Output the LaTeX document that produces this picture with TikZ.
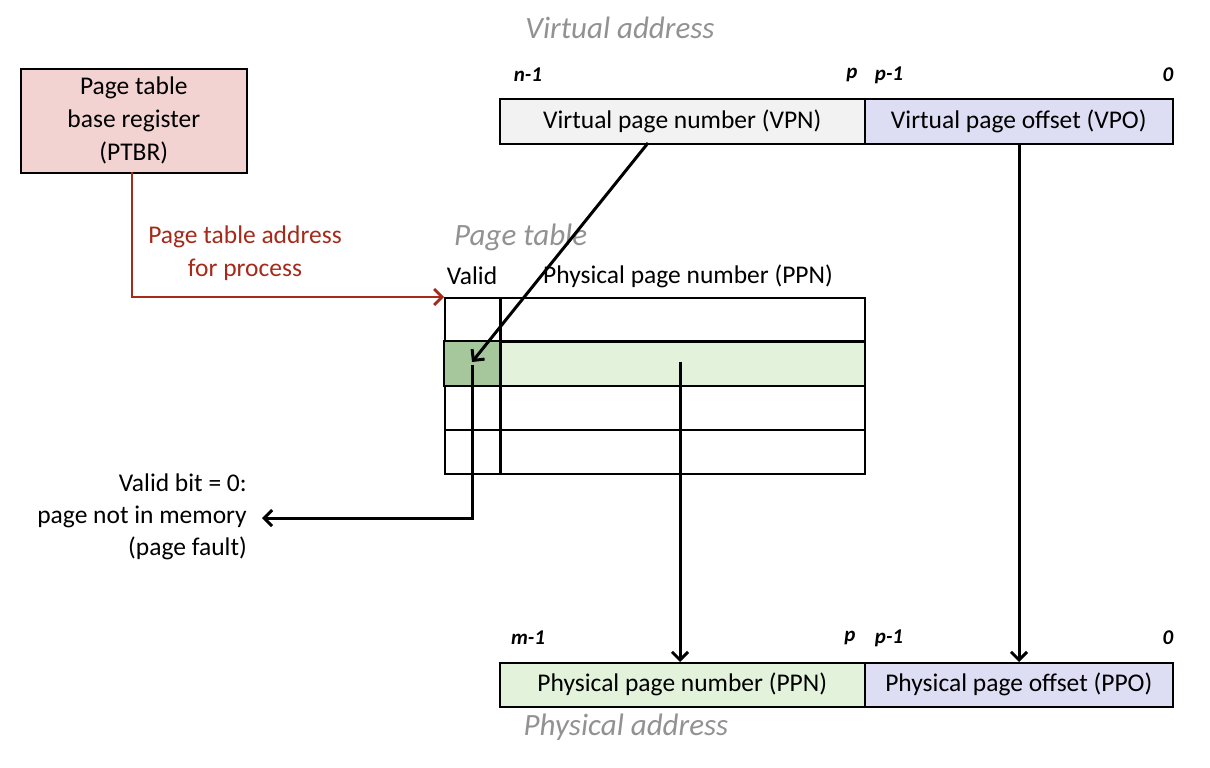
\documentclass[tikz,border=0pt]{standalone}
\usepackage{fontspec}
\setmainfont{Carlito}
\usetikzlibrary{arrows.meta,calc}
\definecolor{ptbrfill}{HTML}{F2D3D2}
\definecolor{vpnfill}{HTML}{F2F2F2}
\definecolor{offfill}{HTML}{DDDDF3}
\definecolor{ppnfill}{HTML}{E2F2DB}
\definecolor{validfill}{HTML}{A6C79C}
\definecolor{redline}{HTML}{A52A1A}
\definecolor{titlegray}{HTML}{929292}
\tikzset{
  field/.style={draw=black, line width=1.6pt, inner sep=0pt, minimum height=45pt, anchor=north west, font=\fontsize{25.5}{30}\selectfont},
  row/.style={draw=black, line width=1.6pt, inner sep=0pt, minimum height=44pt, minimum width=420pt, anchor=north west},
  title/.style={font=\fontsize{31}{36}\selectfont\itshape, text=titlegray, inner sep=0pt},
  bitlbl/.style={font=\fontsize{21}{25}\selectfont\itshape\bfseries, inner sep=0pt},
  lbl/.style={font=\fontsize{25.5}{30}\selectfont, inner sep=0pt},
  arr/.style={line width=3pt, -{Straight Barb[length=8pt,width=16pt,line width=3pt]}},
}
\begin{document}
\begin{tikzpicture}[x=1pt,y=-1pt]
\useasboundingbox (0,0) rectangle (1210,768);
% PTBR
\node[draw=black, line width=1.6pt, fill=ptbrfill, minimum width=226pt, minimum height=104pt, anchor=north west, inner sep=0pt, align=center, font=\fontsize{25.5}{33}\selectfont] (ptbr) at (20,68) {Page table\\base register\\(PTBR)};
\node[lbl, text=redline, align=center, font=\fontsize{25.5}{33}\selectfont] (ptaddr) at (245,253) {Page table address\\for process};
% Virtual address
\node[title] (vatitle) at (620,28) {Virtual address};
\node[bitlbl] (vn1) at (528,75) {n-1};
\node[bitlbl] (vp) at (852,75) {p};
\node[bitlbl] (vp1) at (889,75) {p-1};
\node[bitlbl] (v0) at (1168,75) {0};
\node[field, fill=vpnfill, minimum width=365pt] (vpn) at (499,98) {Virtual page number (VPN)};
\node[field, fill=offfill, minimum width=308pt] (vpo) at (864,98) {Virtual page offset (VPO)};
% Page table
\node[title, anchor=west] (pttitle) at (454,237) {Page table};
\node[lbl] (valid) at (472,276) {Valid};
\node[lbl] (ppnhead) at (688,276) {Physical page number (PPN)};
\node[row] (r1) at (444,297) {};
\node[row, fill=ppnfill] (r2) at (444,341) {};
\node[row] (r3) at (444,385) {};
\node[row] (r4) at (444,429) {};
\fill[validfill] (r2.north west) rectangle (500,385);
\draw[line width=1.6pt] (r2.north west) rectangle (r2.south east);
\draw[line width=3pt] (500,297) -- (500,473);
% Physical address
\node[bitlbl] (pm1) at (528,638) {m-1};
\node[bitlbl] (pp) at (850,638) {p};
\node[bitlbl] (pp1) at (889,638) {p-1};
\node[bitlbl] (p0) at (1168,638) {0};
\node[field, fill=ppnfill, minimum width=365pt, minimum height=44pt] (ppn) at (499,662) {Physical page number (PPN)};
\node[field, fill=offfill, minimum width=308pt, minimum height=44pt] (ppo) at (864,662) {Physical page offset (PPO)};
\node[title] (patitle) at (626,727) {Physical address};
% Fault text
\node[lbl, anchor=east, align=right, font=\fontsize{25.5}{32}\selectfont] (fault) at (247,517) {Valid bit = 0:\\page not in memory\\(page fault)};
% coordinates
\coordinate (vpnout) at (648,143);
\coordinate (vtip) at (472,362);
\coordinate (vstart) at (472,365);
\coordinate (vcorner) at (472,518);
\coordinate (faultend) at (262,518);
\coordinate (ppnstart) at (680,362);
\coordinate (ppnin) at (680,662);
\coordinate (vpoout) at (1019,143);
\coordinate (ppoin) at (1019,662);
\coordinate (ptbrout) at (132,172);
\coordinate (rcorner) at (132,297);
\coordinate (rin) at (444,297);
% connectors
\draw[draw=redline, line width=2.8pt, -{Straight Barb[length=8pt,width=16pt,line width=2.8pt]}] (ptbrout) -- (rcorner) -- (rin);
\draw[arr] (vpnout) -- (vtip);
\draw[arr] (vstart) -- (vcorner) -- (faultend);
\draw[arr] (ppnstart) -- (ppnin);
\draw[arr] (vpoout) -- (ppoin);
\end{tikzpicture}
\end{document}
